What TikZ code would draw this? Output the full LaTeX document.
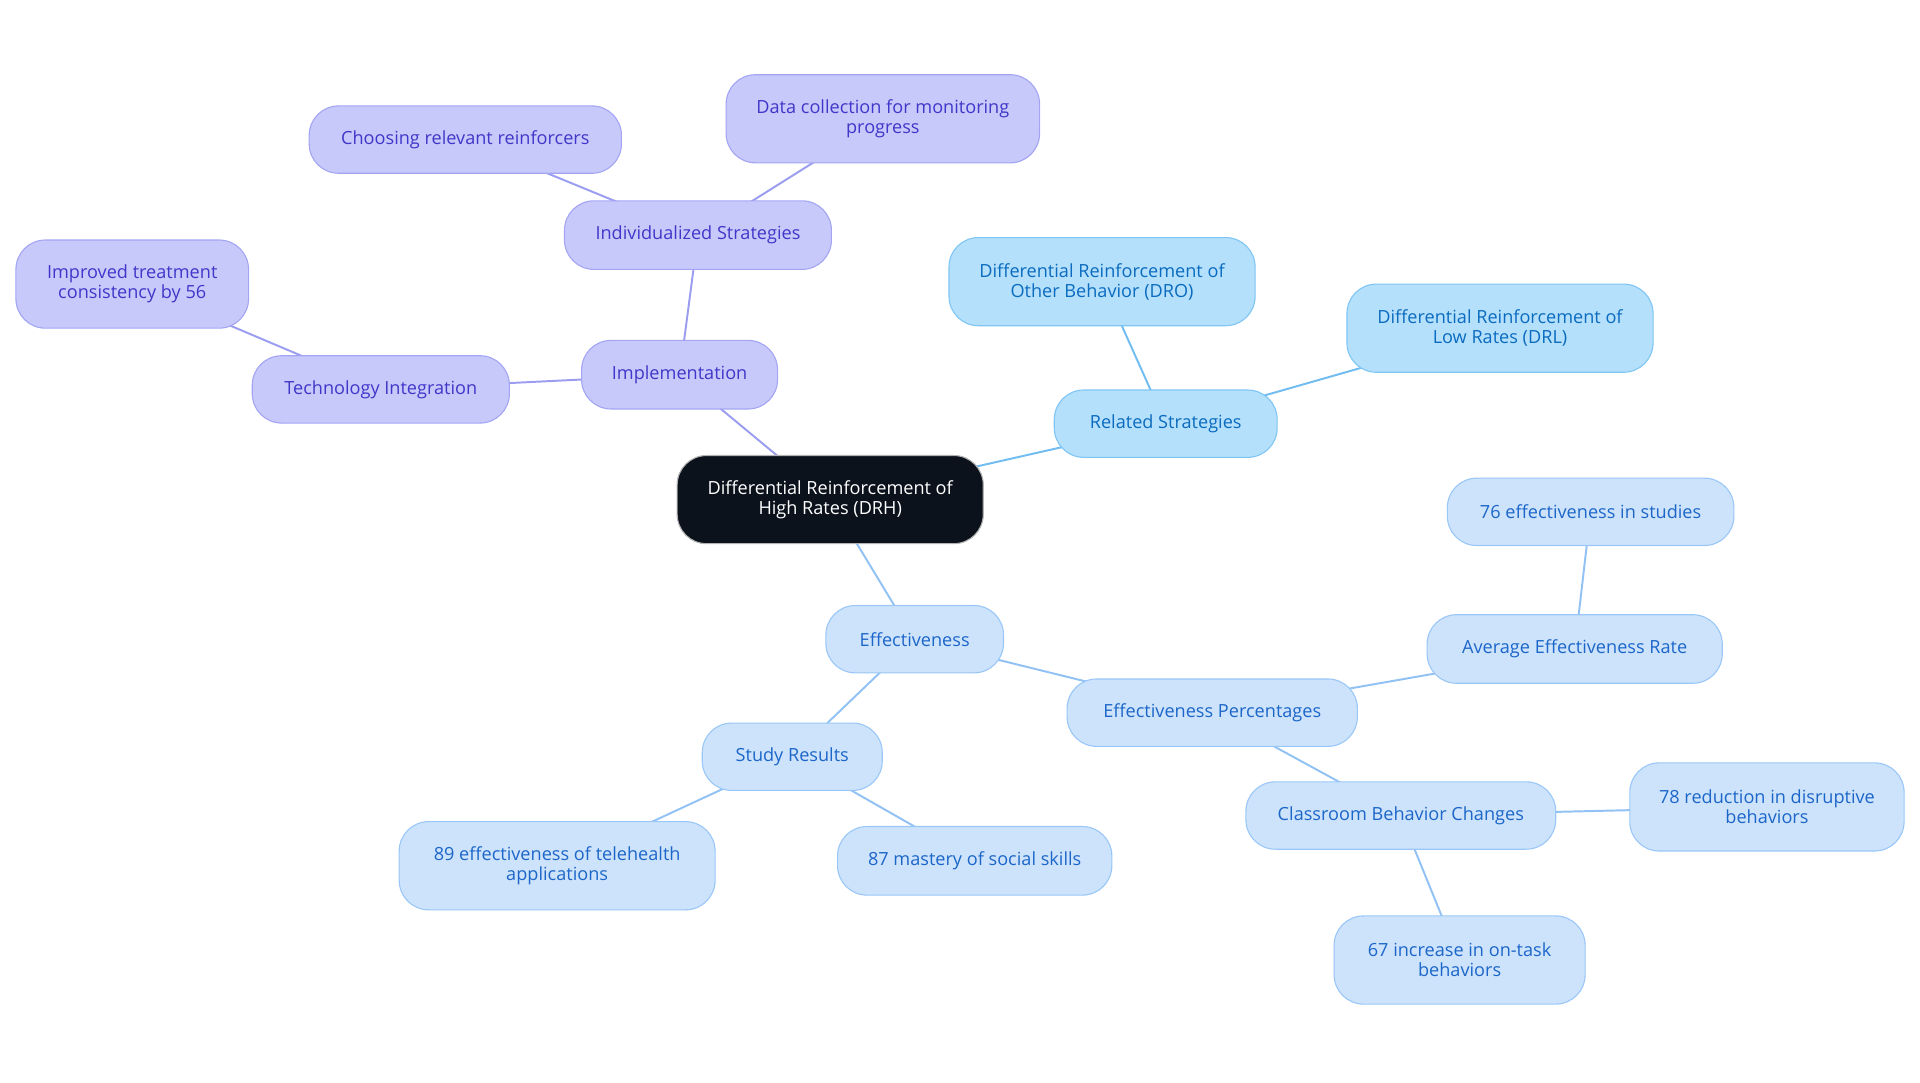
\documentclass[tikz,border=0pt]{standalone}
\usepackage{fontspec}
\setmainfont{Open Sans}
\usetikzlibrary{backgrounds}
\definecolor{pfill}{HTML}{C8C9FB}
\definecolor{pdraw}{HTML}{A3A5F3}
\definecolor{ptext}{HTML}{3F37C9}
\definecolor{pline}{HTML}{9A9DF0}
\definecolor{sfill}{HTML}{B4E0FC}
\definecolor{sdraw}{HTML}{80C6F4}
\definecolor{stext}{HTML}{0A6BBF}
\definecolor{sline}{HTML}{72BDF0}
\definecolor{bfill}{HTML}{CDE3FB}
\definecolor{bdraw}{HTML}{9AC7F7}
\definecolor{btext}{HTML}{1C66C9}
\definecolor{bline}{HTML}{92C2F4}
\definecolor{cfill}{HTML}{0C121C}
\tikzset{
  box/.style={rectangle, rounded corners=24pt, line width=0.9pt, align=center,
    inner sep=0pt, font=\fontsize{14.8}{16.5}\selectfont},
  pbox/.style={box, fill=pfill, draw=pdraw, text=ptext},
  sbox/.style={box, fill=sfill, draw=sdraw, text=stext},
  bbox/.style={box, fill=bfill, draw=bdraw, text=btext},
  cbox/.style={box, fill=cfill, draw=gray!60, text=white},
  pedge/.style={draw=pline, line width=1.6pt},
  sedge/.style={draw=sline, line width=1.6pt},
  bedge/.style={draw=bline, line width=1.6pt},
}
\begin{document}
\begin{tikzpicture}[x=1pt,y=-1pt]
\useasboundingbox (0,0) rectangle (1568,884.3);
% center
\node[cbox, minimum width=250pt, minimum height=72pt] (drh) at (678,408) {Differential Reinforcement of\\High Rates (DRH)};
% implementation branch
\node[pbox, minimum width=160pt, minimum height=56pt] (impl) at (555,306) {Implementation};
\node[pbox, minimum width=218pt, minimum height=56pt] (indiv) at (570,192) {Individualized Strategies};
\node[pbox, minimum width=255pt, minimum height=55pt] (choose) at (380,114) {Choosing relevant reinforcers};
\node[pbox, minimum width=256pt, minimum height=72pt] (data) at (721,97) {Data collection for monitoring\\progress};
\node[pbox, minimum width=210pt, minimum height=55pt] (tech) at (311,318) {Technology Integration};
\node[pbox, minimum width=190pt, minimum height=72pt] (improved) at (108,232) {Improved treatment\\consistency by 56};
% related
\node[sbox, minimum width=182pt, minimum height=55pt] (related) at (952,346) {Related Strategies};
\node[sbox, minimum width=250pt, minimum height=72pt] (dro) at (900,230) {Differential Reinforcement of\\Other Behavior (DRO)};
\node[sbox, minimum width=250pt, minimum height=72pt] (drl) at (1225,268) {Differential Reinforcement of\\Low Rates (DRL)};
% effectiveness
\node[bbox, minimum width=145pt, minimum height=55pt] (eff) at (747,522) {Effectiveness};
\node[bbox, minimum width=147pt, minimum height=55pt] (study) at (647,618) {Study Results};
\node[bbox, minimum width=258pt, minimum height=72pt] (tele) at (455,707) {89 effectiveness of telehealth\\applications};
\node[bbox, minimum width=224pt, minimum height=56pt] (social) at (796,703) {87 mastery of social skills};
\node[bbox, minimum width=237pt, minimum height=55pt] (perc) at (990,582) {Effectiveness Percentages};
\node[bbox, minimum width=241pt, minimum height=56pt] (avg) at (1286,530) {Average Effectiveness Rate};
\node[bbox, minimum width=234pt, minimum height=55pt] (s76) at (1299,418) {76 effectiveness in studies};
\node[bbox, minimum width=253pt, minimum height=55pt] (class) at (1144,666) {Classroom Behavior Changes};
\node[bbox, minimum width=224pt, minimum height=72pt] (r78) at (1443,659) {78 reduction in disruptive\\behaviors};
\node[bbox, minimum width=205pt, minimum height=72pt] (i67) at (1192,784) {67 increase in on-task\\behaviors};
% edges (center to center, hidden under the opaque nodes)
\begin{scope}[on background layer]
\path[pedge] (drh.center) -- (impl.center);
\path[pedge] (impl.center) -- (indiv.center);
\path[pedge] (indiv.center) -- (choose.center);
\path[pedge] (indiv.center) -- (data.center);
\path[pedge] (impl.center) -- (tech.center);
\path[pedge] (tech.center) -- (improved.center);
\path[sedge] (drh.center) -- (related.center);
\path[sedge] (related.center) -- (dro.center);
\path[sedge] (related.center) -- (drl.center);
\path[bedge] (drh.center) -- (eff.center);
\path[bedge] (eff.center) -- (study.center);
\path[bedge] (study.center) -- (tele.center);
\path[bedge] (study.center) -- (social.center);
\path[bedge] (eff.center) -- (perc.center);
\path[bedge] (perc.center) -- (avg.center);
\path[bedge] (avg.center) -- (s76.center);
\path[bedge] (perc.center) -- (class.center);
\path[bedge] (class.center) -- (r78.center);
\path[bedge] (class.center) -- (i67.center);
\end{scope}
\end{tikzpicture}
\end{document}
